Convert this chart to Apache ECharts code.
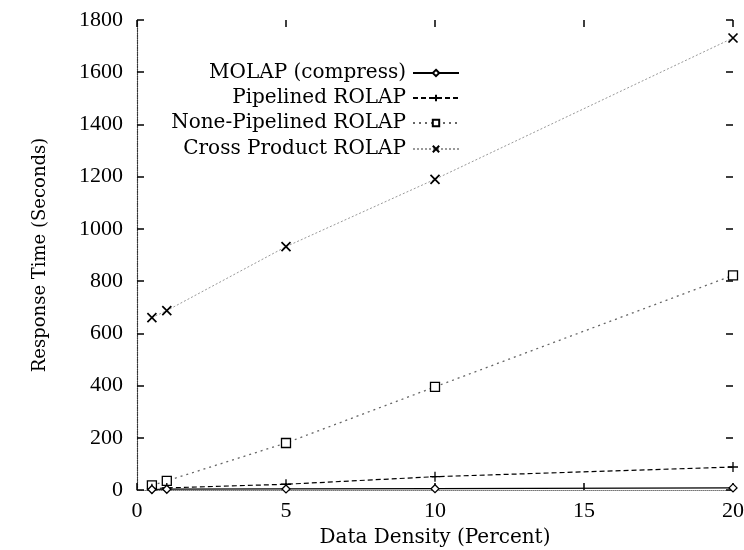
<!DOCTYPE html>
<html><head><meta charset="utf-8">
<script src="https://cdn.jsdelivr.net/npm/echarts@6/dist/echarts.min.js"></script>
<style>html,body{margin:0;padding:0;background:#fff}#c{width:744px;height:550px}</style>
</head><body><div id="c"></div>
<script>
const densities = [0.5, 1, 5, 10, 20];
const molap = [2, 3, 4, 5, 8];
const pipelined = [5, 8, 22, 51, 88];
const nonePipelined = [18, 35, 180, 395, 822];
const crossProduct = [660, 687, 932, 1190, 1731];
const xTicks = [0, 5, 10, 15, 20];
const yTicks = [0, 200, 400, 600, 800, 1000, 1200, 1400, 1600, 1800];
const names = ['MOLAP (compress)', 'Pipelined ROLAP', 'None-Pipelined ROLAP', 'Cross Product ROLAP'];

const TFONT = 'DejaVu Serif';
const NFONT = 'Liberation Serif';
const pts = arr => densities.map((x, i) => [x, arr[i]]);
const plusPath = 'path://M0,5L10,5M5,0L5,10';
const crossPath = 'path://M0,0L10,10M10,0L0,10';

const chart = echarts.init(document.getElementById('c'), null, {renderer: 'canvas'});
const tickStyle = {show: true, inside: true, length: 7, lineStyle: {color: '#000', width: 1.5}};
const legendBase = {
  orient: 'vertical', right: 284, align: 'right', itemWidth: 46, itemHeight: 8, itemGap: 0,
  textStyle: {fontFamily: TFONT, fontSize: 20, lineHeight: 22, color: '#000', padding: [0, 2, 0, 0]},
  padding: 0
};
chart.setOption({
  animation: false,
  backgroundColor: '#fff',
  grid: {left: 137, right: 11, top: 20, bottom: 60, containLabel: false, outerBoundsMode: 'none'},
  legend: [
    Object.assign({}, legendBase, {data: [names[0]], top: 62}),
    Object.assign({}, legendBase, {data: [names[1]], top: 87}),
    Object.assign({}, legendBase, {data: [names[2]], top: 112}),
    Object.assign({}, legendBase, {data: [names[3]], top: 138})
  ],
  xAxis: [{
    type: 'value', min: 0, max: 20, interval: 5, position: 'bottom',
    name: 'Data Density (Percent)', nameLocation: 'middle', nameGap: 38,
    nameTextStyle: {fontFamily: TFONT, fontSize: 20, color: '#000'},
    axisLine: {show: true, onZero: false, lineStyle: {color: '#777', type: 'dotted', width: 1}},
    axisTick: tickStyle,
    axisLabel: {fontFamily: NFONT, fontSize: 22, color: '#000', margin: 10,
      formatter: v => xTicks.includes(v) ? String(v) : ''},
    splitLine: {show: false}
  }, {
    type: 'value', min: 0, max: 20, interval: 5, position: 'top',
    axisLine: {show: false, onZero: false}, axisTick: tickStyle, axisLabel: {show: false}, splitLine: {show: false}
  }],
  yAxis: [{
    type: 'value', min: 0, max: 1800, interval: 200, position: 'left',
    name: 'Response Time (Seconds)', nameLocation: 'middle', nameGap: 88, nameRotate: 90,
    nameTextStyle: {fontFamily: TFONT, fontSize: 18, color: '#000'},
    axisLine: {show: true, onZero: false, lineStyle: {color: '#333', type: 'dotted', width: 1.2}},
    axisTick: tickStyle,
    axisLabel: {fontFamily: NFONT, fontSize: 22, color: '#000', margin: 14,
      formatter: v => yTicks.includes(v) ? String(v) : ''},
    splitLine: {show: false}
  }, {
    type: 'value', min: 0, max: 1800, interval: 200, position: 'right',
    axisLine: {show: false, onZero: false}, axisTick: tickStyle, axisLabel: {show: false}, splitLine: {show: false}
  }],
  series: [
    {name: names[0], type: 'line', data: pts(molap), symbol: 'diamond', symbolSize: 8, showAllSymbol: true,
      lineStyle: {color: '#000', width: 1.2, type: 'solid'},
      itemStyle: {color: '#fff', borderColor: '#000', borderWidth: 1.3}, z: 5},
    {name: names[1], type: 'line', data: pts(pipelined), symbol: plusPath, symbolSize: 10,
      lineStyle: {color: '#000', width: 1.2, type: [5, 3]},
      itemStyle: {color: 'none', borderColor: '#000', borderWidth: 1.3}, z: 4},
    {name: names[2], type: 'line', data: pts(nonePipelined), symbol: 'rect', symbolSize: 9,
      lineStyle: {color: '#666', width: 1.3, type: [2, 4]},
      itemStyle: {color: '#fff', borderColor: '#000', borderWidth: 1.3}, z: 3},
    {name: names[3], type: 'line', data: pts(crossProduct), symbol: crossPath, symbolSize: 9,
      lineStyle: {color: '#999', width: 1, type: [2, 2]},
      itemStyle: {color: 'none', borderColor: '#000', borderWidth: 1.7}, z: 2}
  ]
});
</script></body></html>
